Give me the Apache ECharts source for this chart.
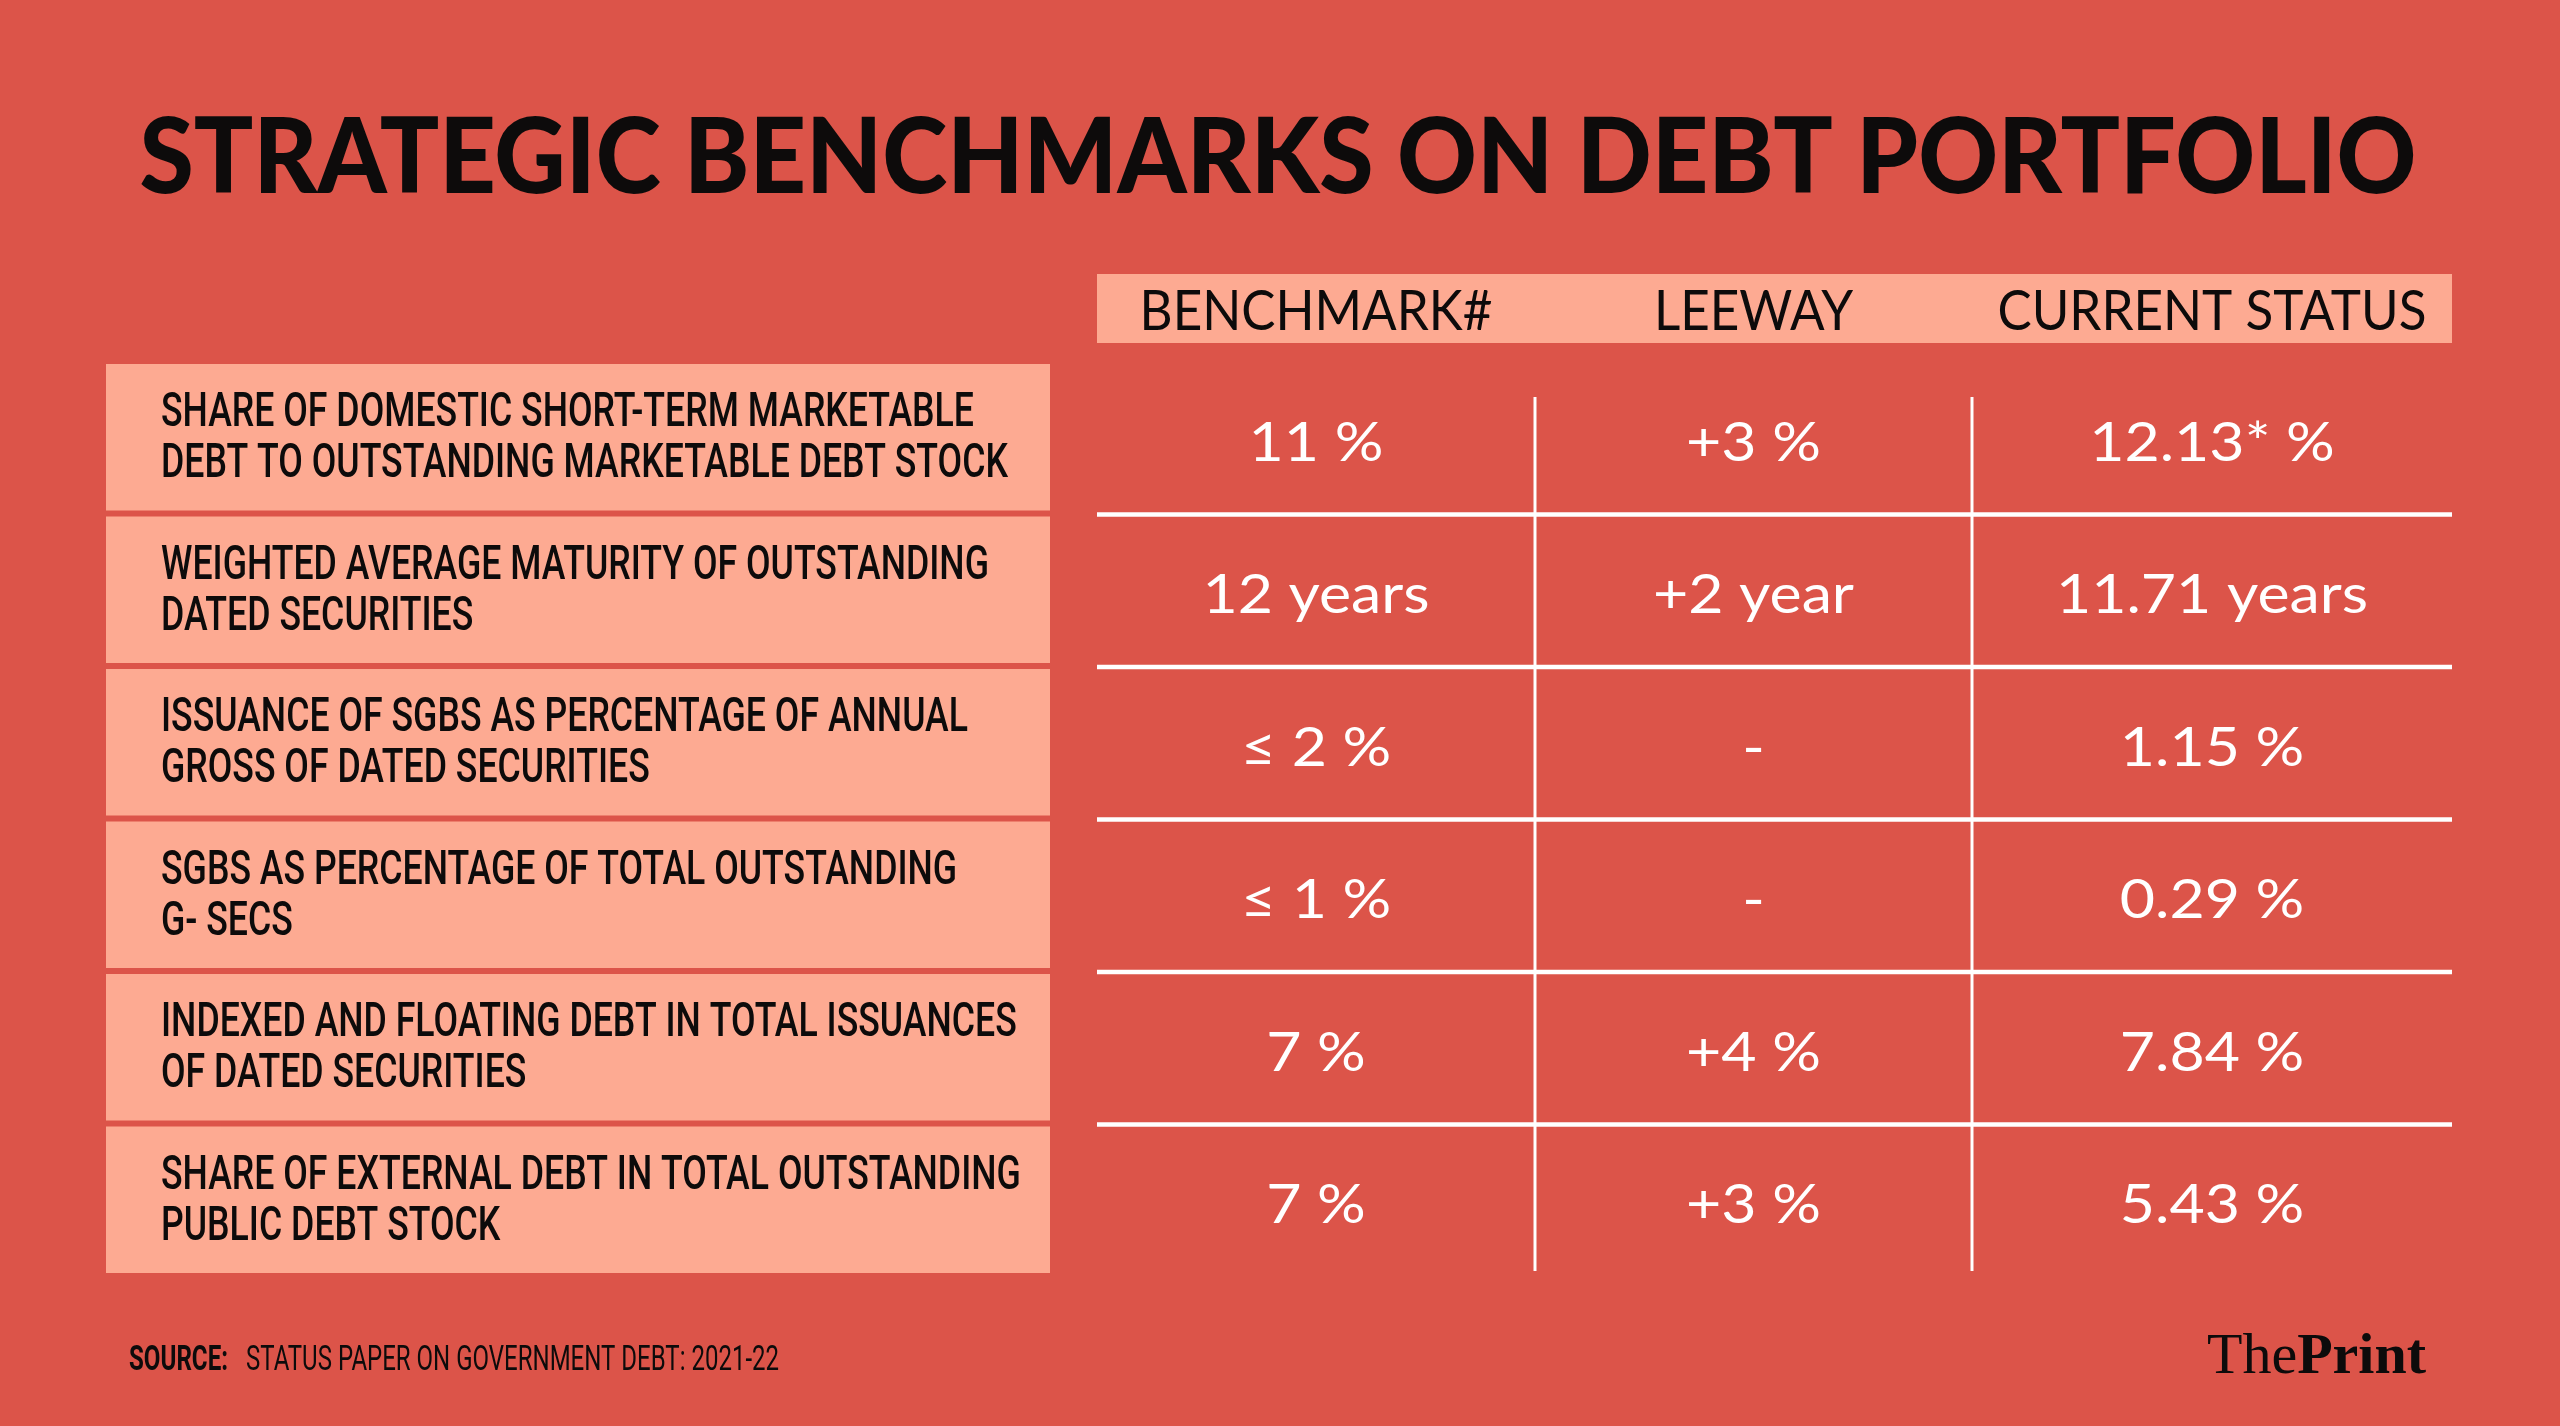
<!DOCTYPE html>
<html>
<head>
<meta charset="UTF-8">
<title>Strategic benchmarks on debt portfolio</title>
<script src="https://cdn.jsdelivr.net/npm/echarts@6/dist/echarts.min.js"></script>
<style>
html,body{margin:0;padding:0;background:#DC5449;}
#chart{width:2560px;height:1426px;}
</style>
</head>
<body>
<div id="chart"></div>
<script>
// data
var titleText = 'STRATEGIC BENCHMARKS ON DEBT PORTFOLIO';
var columns = ['BENCHMARK#', 'LEEWAY', 'CURRENT STATUS'];
var rowLabels = [
	'SHARE OF DOMESTIC SHORT-TERM MARKETABLE\nDEBT TO OUTSTANDING MARKETABLE DEBT STOCK',
	'WEIGHTED AVERAGE MATURITY OF OUTSTANDING\nDATED SECURITIES',
	'ISSUANCE OF SGBS AS PERCENTAGE OF ANNUAL\nGROSS OF DATED SECURITIES',
	'SGBS AS PERCENTAGE OF TOTAL OUTSTANDING\nG- SECS',
	'INDEXED AND FLOATING DEBT IN TOTAL ISSUANCES\nOF DATED SECURITIES',
	'SHARE OF EXTERNAL DEBT IN TOTAL OUTSTANDING\nPUBLIC DEBT STOCK'
];
var benchmark = ['11 %', '12 years', '≤ 2 %', '≤ 1 %', '7 %', '7 %'];
var leeway = ['+3 %', '+2 year', '-', '-', '+4 %', '+3 %'];
var currentStatus = ['12.13* %', '11.71 years', '1.15 %', '0.29 %', '7.84 %', '5.43 %'];
var sourceLabel = 'SOURCE:';
var sourceText = 'STATUS PAPER ON GOVERNMENT DEBT: 2021-22';

// look
var BG = '#DC5449', PALE = '#FDAA92', INK = '#0d0b0b';
var colWidths = [438, 437, 480];
var colEdges = [0];
colWidths.forEach(function(w, i){ colEdges.push(colEdges[i] + w); });

// squeeze/stretch text to the widths seen in the picture
var ctx = document.createElement('canvas').getContext('2d');
function fit(text, weight, size, family, target){
	ctx.font = weight + ' ' + size + 'px ' + family;
	return target / ctx.measureText(text).width;
}
var titleScale = fit(titleText, 900, 104, 'Lato', 2277);
var labelScale = fit('SHARE OF DOMESTIC SHORT-TERM MARKETABLE', 500, 49, 'Roboto', 813);
var headScale = fit('CURRENT STATUS', 'normal', 56, 'Lato', 429);
var valueScale = fit('11.71 years', 'normal', 54, 'Lato', 312);
var srcScale = fit(sourceText, 'normal', 35, 'Roboto', 533);
var srcLabelScale = fit(sourceLabel, 'bold', 35, 'Roboto', 99);

var cells = [];
var cellData = [];
for (var r = 0; r < rowLabels.length; r++) {
	[benchmark[r], leeway[r], currentStatus[r]].forEach(function(v, c){
		cells.push(v);
		cellData.push([c, r]);
	});
}
var rowData = rowLabels.map(function(l, i){ return [0, i]; });

var chart = echarts.init(document.getElementById('chart'));
var option = {
	backgroundColor: BG,
	animation: false,
	grid: [
		{left: 106, top: 362, width: 944, height: 915},
		{left: 1097, top: 362, width: 1355, height: 915},
		{left: 1097, top: 274, width: 1355, height: 69}
	],
	xAxis: [
		{gridIndex: 0, type: 'value', min: 0, max: 1, show: false},
		{gridIndex: 1, type: 'value', min: 0, max: colEdges[3], show: false},
		{gridIndex: 2, type: 'value', min: 0, max: colEdges[3], show: false}
	],
	yAxis: [
		{gridIndex: 0, type: 'category', data: rowLabels, inverse: true, show: false},
		{gridIndex: 1, type: 'category', data: rowLabels, inverse: true, show: false},
		{gridIndex: 2, type: 'category', data: ['header'], show: false}
	],
	series: [
		{
			// left label boxes
			type: 'custom', xAxisIndex: 0, yAxisIndex: 0, silent: true,
			data: rowData,
			renderItem: function(params, api){
				var cs = params.coordSys;
				var p = api.coord([0, api.value(1)]);
				var bh = api.size([0, 1])[1];
				return {type: 'group', children: [
					{type: 'rect', shape: {x: cs.x, y: p[1] - bh / 2 + 2, width: cs.width, height: bh - 6}, style: {fill: PALE}},
					{type: 'text', x: cs.x + 55, y: p[1] + 1, scaleX: labelScale, style: {
						text: rowLabels[params.dataIndex], fill: INK, fontSize: 49, fontWeight: 500,
						fontFamily: 'Roboto', lineHeight: 51, align: 'left', verticalAlign: 'middle'}}
				]};
			}
		},
		{
			// table rules
			type: 'custom', xAxisIndex: 1, yAxisIndex: 1, silent: true,
			data: rowData,
			renderItem: function(params, api){
				var cs = params.coordSys;
				var r = api.value(1), n = rowLabels.length;
				var p = api.coord([0, r]);
				var bh = api.size([0, 1])[1];
				var top = p[1] - bh / 2, bot = p[1] + bh / 2;
				var kids = [];
				if (r < n - 1) {
					kids.push({type: 'line', shape: {x1: cs.x, y1: bot, x2: cs.x + cs.width, y2: bot}, style: {stroke: '#fff', lineWidth: 4.5}});
				}
				for (var e = 1; e < colEdges.length - 1; e++) {
					var x = api.coord([colEdges[e], r])[0];
					kids.push({type: 'line', shape: {x1: x, y1: r === 0 ? top + 35 : top, x2: x, y2: r === n - 1 ? bot - 6 : bot}, style: {stroke: '#fff', lineWidth: 3}});
				}
				return {type: 'group', children: kids};
			}
		},
		{
			// cell values
			type: 'custom', xAxisIndex: 1, yAxisIndex: 1, silent: true,
			data: cellData,
			renderItem: function(params, api){
				var c = api.value(0), r = api.value(1);
				var p = api.coord([(colEdges[c] + colEdges[c + 1]) / 2, r]);
				return {type: 'text', x: p[0], y: p[1] + 5, scaleX: valueScale, style: {
					text: cells[params.dataIndex], fill: '#fff', fontSize: 54, fontFamily: 'Lato',
					align: 'center', verticalAlign: 'middle'}};
			}
		},
		{
			// header bar
			type: 'custom', xAxisIndex: 2, yAxisIndex: 2, silent: true,
			data: columns.map(function(c, i){ return [i, 0]; }),
			renderItem: function(params, api){
				var c = api.value(0);
				var a = api.coord([colEdges[c], 0]), b = api.coord([colEdges[c + 1], 0]);
				var bh = api.size([0, 1])[1];
				return {type: 'group', children: [
					{type: 'rect', shape: {x: a[0], y: a[1] - bh / 2, width: b[0] - a[0], height: bh}, style: {fill: PALE}},
					{type: 'text', x: (a[0] + b[0]) / 2, y: a[1] + 3, scaleX: headScale, style: {
						text: columns[c], fill: INK, fontSize: 56, fontFamily: 'Lato',
						align: 'center', verticalAlign: 'middle'}}
				]};
			}
		}
	],
	graphic: [
		{type: 'text', x: 1278, y: 159, scaleX: titleScale, style: {
			text: titleText, fill: INK, fontSize: 104, fontWeight: 900, fontFamily: 'Lato',
			align: 'center', verticalAlign: 'middle'}},
		{type: 'text', x: 129, y: 1361, scaleX: srcLabelScale, style: {
			text: sourceLabel, fill: INK, fontSize: 35, fontWeight: 'bold', fontFamily: 'Roboto',
			align: 'left', verticalAlign: 'middle'}},
		{type: 'text', x: 246, y: 1361, scaleX: srcScale, style: {
			text: sourceText, fill: INK, fontSize: 35, fontFamily: 'Roboto',
			align: 'left', verticalAlign: 'middle'}},
		{type: 'text', x: 2426, y: 1358, style: {
			text: '{a|The}{b|Print}', align: 'right', verticalAlign: 'middle',
			rich: {
				a: {fontSize: 58, fontFamily: 'Liberation Serif', fill: INK},
				b: {fontSize: 58, fontFamily: 'Liberation Serif', fontWeight: 'bold', fill: INK}
			}}}
	]
};
chart.setOption(option);
</script>
</body>
</html>
